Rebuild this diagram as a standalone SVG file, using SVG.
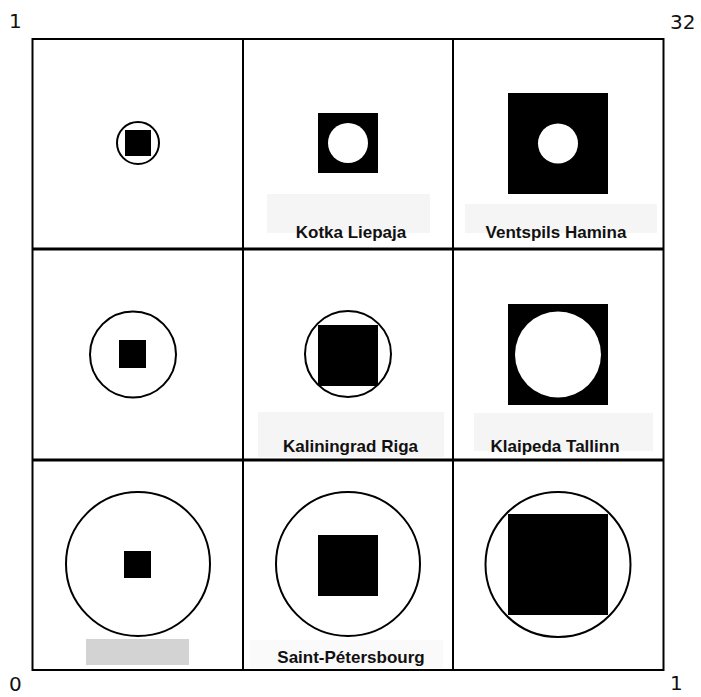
<svg xmlns="http://www.w3.org/2000/svg" width="701" height="697" viewBox="0 0 701 697">
<style>
.grid{stroke:#000;stroke-width:2;fill:none}
.gridh{stroke:#000;stroke-width:3;fill:none}
.ring{fill:#fff;stroke:#000;stroke-width:2}
.blk{fill:#000}
.hole{fill:#fff}
.lbg{fill:#f5f5f5}
.lbl{font-family:"Liberation Sans",Arial,sans-serif;font-weight:bold;font-size:17px;fill:#111;text-anchor:middle}
.num{font-family:"DejaVu Sans",Verdana,sans-serif;font-size:20px;fill:#111}
</style>
<rect width="701" height="697" fill="#fff"/>
<g id="connectors">
<line class="grid" x1="32" y1="39" x2="664" y2="39"/>
<line class="grid" x1="32" y1="670" x2="664" y2="670"/>
<line class="gridh" x1="32" y1="249" x2="664" y2="249"/>
<line class="gridh" x1="32" y1="460" x2="664" y2="460"/>
<line class="grid" x1="32.5" y1="38" x2="32.5" y2="671"/>
<line class="grid" x1="243" y1="38" x2="243" y2="671"/>
<line class="grid" x1="453" y1="38" x2="453" y2="671"/>
<line class="grid" x1="663.5" y1="38" x2="663.5" y2="671"/>
</g>
<g id="axis-labels">
<text class="num" x="9" y="28">1</text>
<text class="num" x="670" y="29">32</text>
<text class="num" x="9" y="691">0</text>
<text class="num" x="670" y="690">1</text>
</g>
<g id="cell-1-1">
<circle class="ring" cx="138" cy="143" r="21"/>
<rect class="blk" x="125" y="130" width="26" height="26"/>
</g>
<g id="cell-1-2">
<rect class="blk" x="318" y="113" width="60" height="60"/>
<circle class="hole" cx="348" cy="143" r="20"/>
<rect class="lbg" x="267" y="194" width="163" height="39"/>
<text class="lbl" x="351" y="238">Kotka Liepaja</text>
</g>
<g id="cell-1-3">
<rect class="blk" x="508" y="93" width="100" height="101"/>
<circle class="hole" cx="558" cy="143.5" r="20"/>
<rect class="lbg" x="465" y="204" width="192" height="29"/>
<text class="lbl" x="556" y="238">Ventspils Hamina</text>
</g>
<g id="cell-2-1">
<circle class="ring" cx="133" cy="354.5" r="43"/>
<rect class="blk" x="119" y="340" width="27" height="28"/>
</g>
<g id="cell-2-2">
<rect class="lbg" x="258" y="412" width="186" height="45"/>
<circle class="ring" cx="348" cy="354" r="43"/>
<rect class="blk" x="318" y="325" width="60" height="61"/>
<text class="lbl" x="350.5" y="452">Kaliningrad Riga</text>
</g>
<g id="cell-2-3">
<rect class="blk" x="508" y="304" width="100" height="101"/>
<circle class="hole" cx="558" cy="354.5" r="43"/>
<rect class="lbg" x="474" y="413" width="179" height="38"/>
<text class="lbl" x="555" y="452">Klaipeda Tallinn</text>
</g>
<g id="cell-3-1">
<circle class="ring" cx="138" cy="564" r="72"/>
<rect class="blk" x="124" y="551" width="27" height="27"/>
<rect x="86" y="639" width="103" height="26" fill="#d3d3d3"/>
</g>
<g id="cell-3-2">
<rect x="250" y="640" width="193" height="28" fill="#fafafa"/>
<circle class="ring" cx="348" cy="564" r="72"/>
<rect class="blk" x="318" y="535" width="60" height="61"/>
<text class="lbl" x="351" y="663">Saint-Pétersbourg</text>
</g>
<g id="cell-3-3">
<circle class="ring" cx="558" cy="564.5" r="72.5"/>
<rect class="blk" x="508" y="514" width="100" height="101"/>
</g>
</svg>
